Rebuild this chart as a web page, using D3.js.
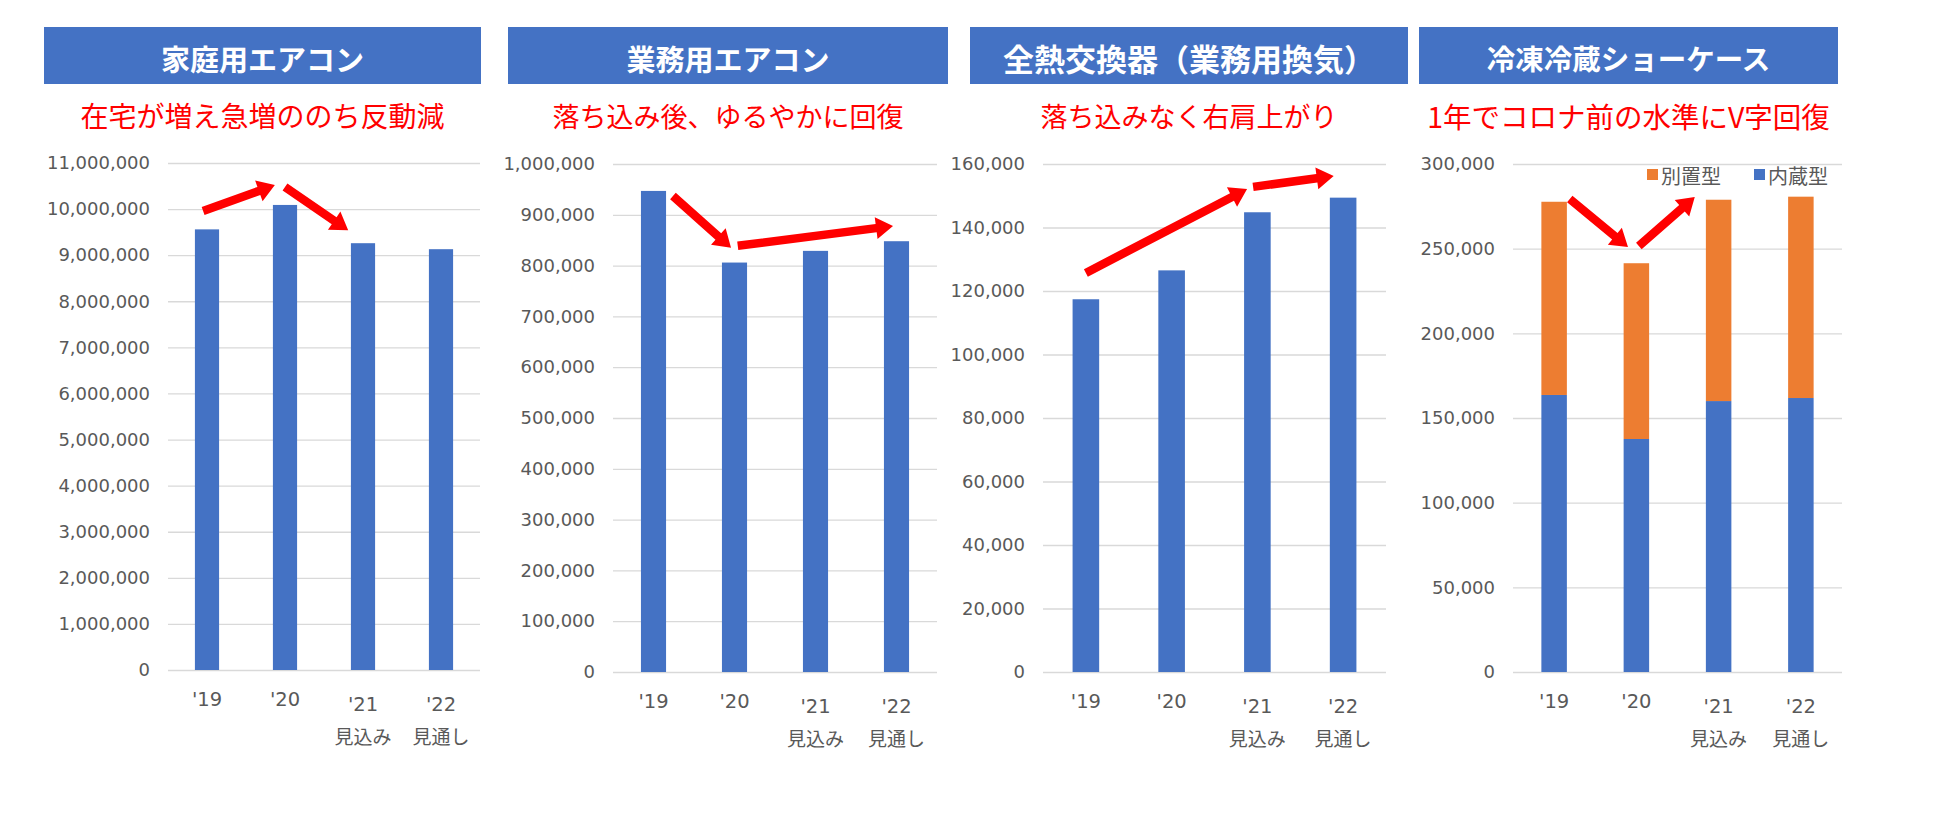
<!DOCTYPE html>
<html><head><meta charset="utf-8">
<script src="https://cdn.jsdelivr.net/npm/d3@7"></script>
<style>body{margin:0;background:#fff} svg{display:block}</style>
</head><body>
<script>
// ---------- data ----------
const categories = ["'19","'20","'21","'22"];
const subLabels = ["","","見込み","見通し"];
const titles = ["家庭用エアコン","業務用エアコン","全熱交換器（業務用換気）","冷凍冷蔵ショーケース"];
const subtitles = ["在宅が増え急増ののち反動減","落ち込み後、ゆるやかに回復","落ち込みなく右肩上がり","1年でコロナ前の水準にV字回復"];
const homeAC = [9560000, 10090000, 9260000, 9130000];
const commercialAC = [947000, 806000, 829000, 848000];
const heatExchanger = [117400, 126500, 144800, 149400];
const showcaseBuiltIn = [163600, 137600, 160000, 161800];   // 内蔵型
const showcaseSeparate = [114100, 103800, 118900, 118900];  // 別置型
const seriesNames = ["別置型", "内蔵型"];
const yMax = [11000000, 1000000, 160000, 300000];
const yStep = [1000000, 100000, 20000, 50000];
// annotation arrows: [fromCategoryIndex, fromValue, toCategoryIndex, toValue]
const arrows1 = [[-0.05, 9960000, 0.87, 10520000], [1.0, 10480000, 1.81, 9540000]];
const arrows2 = [[0.24, 937000, 0.957, 835000], [1.04, 839000, 2.957, 878000]];
const arrows3 = [[0.0, 125700, 1.88, 152100], [1.95, 152800, 2.89, 156200]];
const arrows4 = [[0.19, 279300, 0.898, 251000], [1.03, 251600, 1.71, 280500]];

// ---------- layout ----------
const W = 1945, H = 813;
const layout = [
  {hx0: 44,   hx1: 481,  gx0: 168,  gx1: 480,  yTop: 163, yZero: 670, tfs: 29,   sfs: 28},
  {hx0: 508,  hx1: 948,  gx0: 613,  gx1: 937,  yTop: 164, yZero: 672, tfs: 29,   sfs: 27},
  {hx0: 970,  hx1: 1408, gx0: 1043, gx1: 1386, yTop: 164, yZero: 672, tfs: 31,   sfs: 27},
  {hx0: 1419, hx1: 1838, gx0: 1513, gx1: 1842, yTop: 164, yZero: 672, tfs: 28.5, sfs: 28.5},
];
const BLUE = "#4472C4", ORANGE = "#ED7D31", GRID = "#d9d9d9", TXT = "#595959";
const CJK = "'Noto Sans CJK JP', sans-serif";
const NUM = "'DejaVu Sans', 'Noto Sans CJK JP', sans-serif";

const svg = d3.select("body").append("svg").attr("width", W).attr("height", H);

const singleSeries = [homeAC, commercialAC, heatExchanger, null];
const arrowSets = [arrows1, arrows2, arrows3, arrows4];

function arrowPoints(x0, y0, x1, y1) {
  const sw = 8.5, hw = 22, hl = 17;
  const dx = x1 - x0, dy = y1 - y0, L = Math.hypot(dx, dy);
  const ux = dx / L, uy = dy / L, px = -uy, py = ux;
  const bx = x1 - ux * hl, by = y1 - uy * hl;
  return [
    [x0 + px * sw / 2, y0 + py * sw / 2],
    [bx + px * sw / 2, by + py * sw / 2],
    [bx + px * hw / 2, by + py * hw / 2],
    [x1, y1],
    [bx - px * hw / 2, by - py * hw / 2],
    [bx - px * sw / 2, by - py * sw / 2],
    [x0 - px * sw / 2, y0 - py * sw / 2]
  ];
}

layout.forEach((L, p) => {
  const g = svg.append("g");
  // header
  g.append("rect").attr("x", L.hx0).attr("y", 27).attr("width", L.hx1 - L.hx0).attr("height", 57).attr("fill", BLUE);
  g.append("text").attr("x", (L.hx0 + L.hx1) / 2).attr("y", 57.5)
    .attr("text-anchor", "middle").attr("dominant-baseline", "central")
    .style("font-family", CJK).style("font-weight", 700).style("font-size", L.tfs + "px")
    .attr("fill", "#fff").text(titles[p]);
  g.append("text").attr("x", (L.hx0 + L.hx1) / 2).attr("y", 115)
    .attr("text-anchor", "middle").attr("dominant-baseline", "central")
    .style("font-family", CJK).style("font-size", L.sfs + "px")
    .attr("fill", "#FF0000").text(subtitles[p]);

  const x = d3.scaleBand().domain(categories).range([L.gx0, L.gx1]).paddingInner(0.69).paddingOuter(0.345);
  const y = d3.scaleLinear().domain([0, yMax[p]]).range([L.yZero, L.yTop]);

  const yAxis = d3.axisLeft(y).tickValues(d3.range(0, yMax[p] + 1, yStep[p]))
    .tickFormat(d3.format(",")).tickSize(-(L.gx1 - L.gx0)).tickPadding(18);
  const ag = g.append("g").attr("transform", `translate(${L.gx0},0)`).call(yAxis);
  ag.select(".domain").remove();
  ag.selectAll(".tick line").attr("stroke", GRID).attr("stroke-width", 1.3);
  ag.selectAll(".tick text").attr("fill", TXT).style("font-family", NUM).style("font-size", "18px");

  // bars
  if (singleSeries[p]) {
    g.append("g").selectAll("rect").data(singleSeries[p]).join("rect")
      .attr("x", (d, i) => x(categories[i])).attr("width", x.bandwidth())
      .attr("y", d => y(d)).attr("height", d => y(0) - y(d)).attr("fill", BLUE);
  } else {
    const rows = categories.map((c, i) => ({cat: c, "内蔵型": showcaseBuiltIn[i], "別置型": showcaseSeparate[i]}));
    const stack = d3.stack().keys(["内蔵型", "別置型"])(rows);
    const color = {"内蔵型": BLUE, "別置型": ORANGE};
    g.append("g").selectAll("g").data(stack).join("g").attr("fill", s => color[s.key])
      .selectAll("rect").data(s => s).join("rect")
      .attr("x", d => x(d.data.cat)).attr("width", x.bandwidth())
      .attr("y", d => y(d[1])).attr("height", d => y(d[0]) - y(d[1]));
    // legend
    const lg = g.append("g");
    const lx = [L.gx0 + 134, L.gx0 + 241];
    seriesNames.forEach((n, i) => {
      lg.append("rect").attr("x", lx[i]).attr("y", 169).attr("width", 11).attr("height", 11).attr("fill", color[n]);
      lg.append("text").attr("x", lx[i] + 14).attr("y", 175).attr("dominant-baseline", "central")
        .style("font-family", CJK).style("font-size", "20px").attr("fill", TXT).text(n);
    });
  }

  // x labels
  categories.forEach((c, i) => {
    const cx = x(c) + x.bandwidth() / 2;
    const two = subLabels[i] !== "";
    g.append("text").attr("x", cx).attr("y", L.yZero + (two ? 41 : 36)).attr("text-anchor", "middle")
      .style("font-family", NUM).style("font-size", "19.5px").attr("fill", TXT).text(c);
    if (two) g.append("text").attr("x", cx).attr("y", L.yZero + 74).attr("text-anchor", "middle")
      .style("font-family", CJK).style("font-size", "19px").attr("fill", TXT).text(subLabels[i]);
  });

  // arrows
  const xi = i => x(categories[0]) + x.bandwidth() / 2 + i * x.step();
  g.append("g").selectAll("polygon").data(arrowSets[p]).join("polygon")
    .attr("points", a => arrowPoints(xi(a[0]), y(a[1]), xi(a[2]), y(a[3])).map(q => q.join(",")).join(" "))
    .attr("fill", "#FF0000");
});
</script>
</body></html>
